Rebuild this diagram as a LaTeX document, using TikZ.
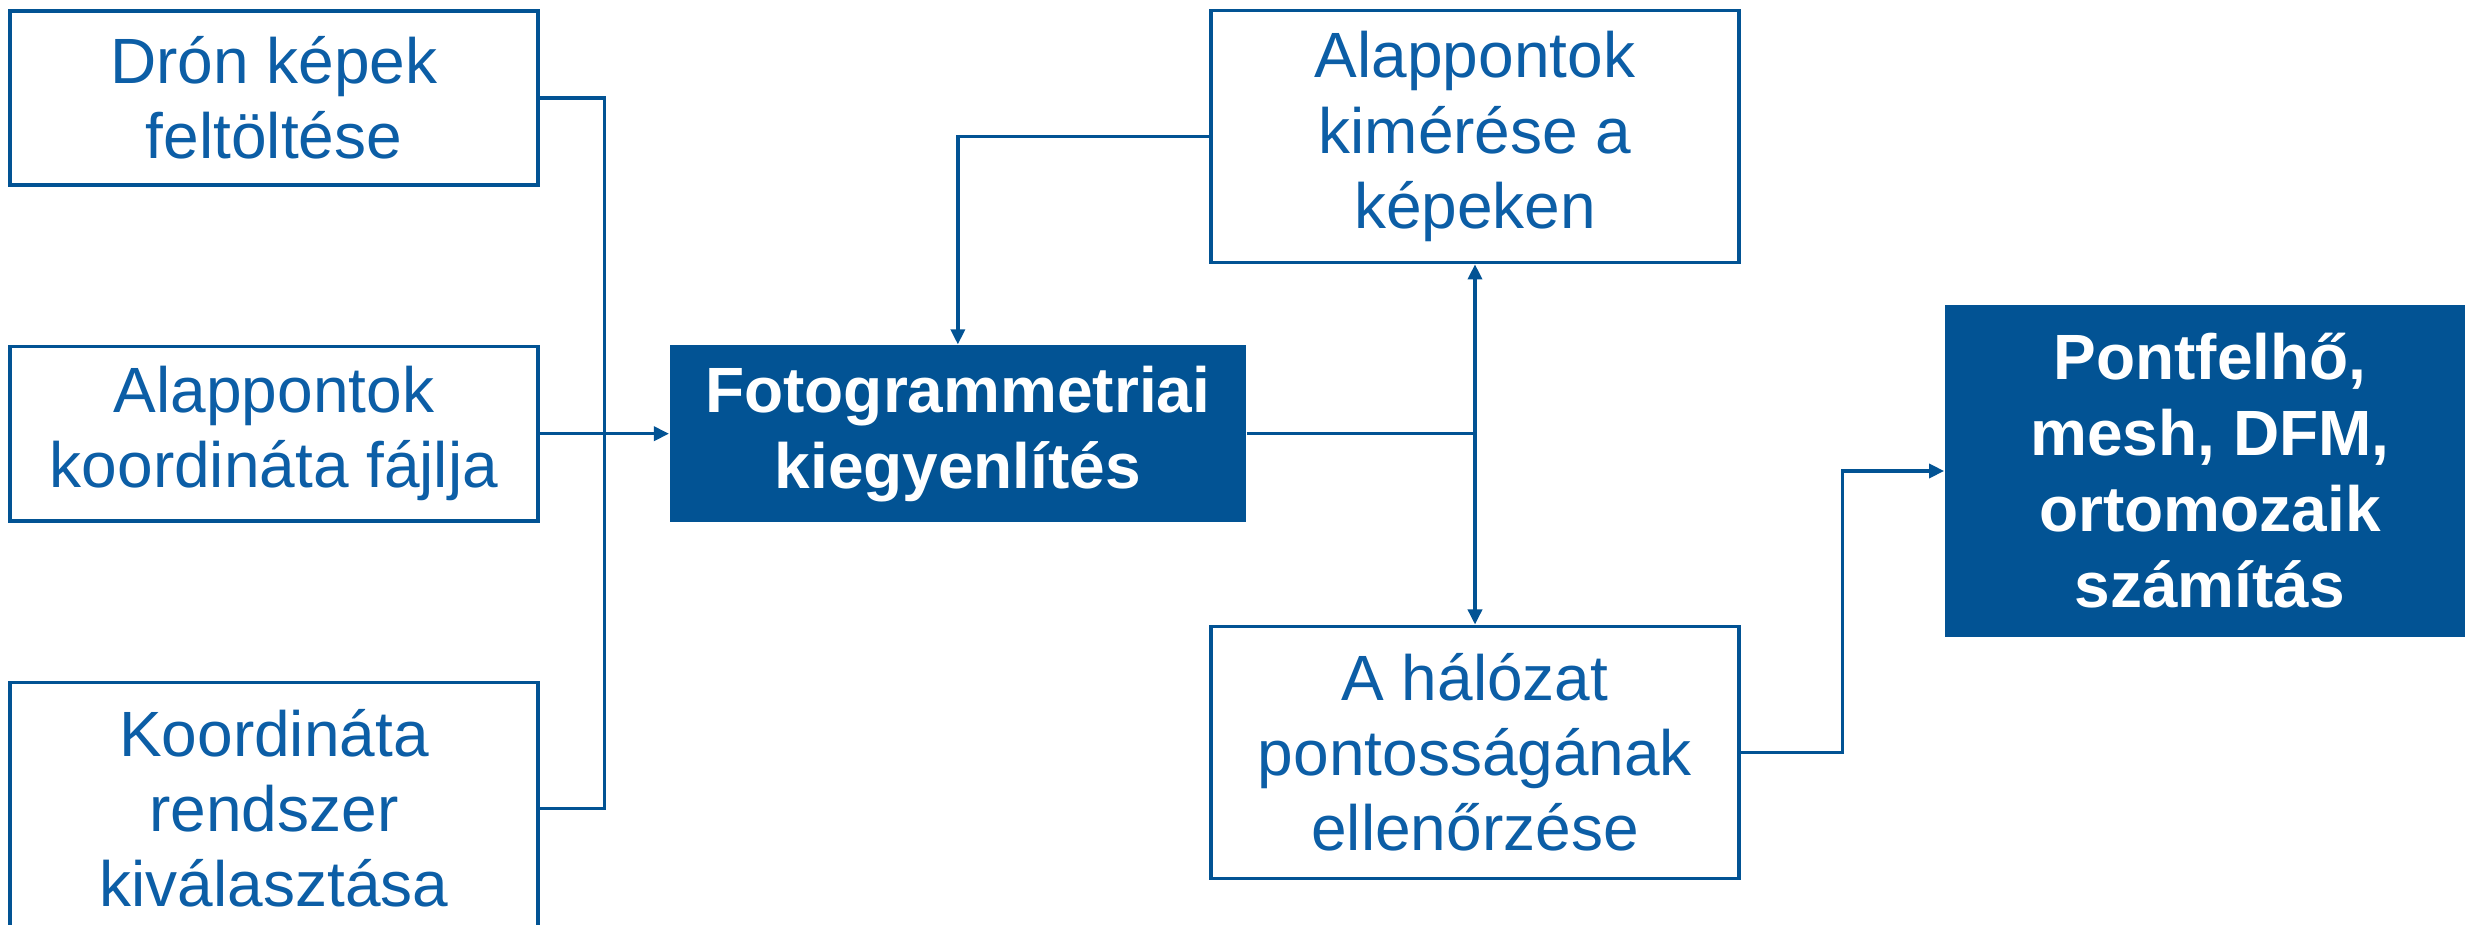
\documentclass[tikz,border=0pt]{standalone}
\usepackage{fontspec}
\setmainfont{Liberation Sans}
\usepackage{tikz}
\usetikzlibrary{arrows.meta, positioning, calc}
\definecolor{flowblue}{RGB}{2,83,148}
\definecolor{labelblue}{RGB}{12,94,166}

\begin{document}
\begin{tikzpicture}[
  x=0.01cm, y=-0.01cm,
  inbox/.style={
    rectangle, minimum width=5.28cm, minimum height=1.74cm, inner sep=0pt,
    align=center, draw=flowblue, fill=white, line width=1pt,
    text=labelblue, font=\fontsize{18.2}{21.4}\selectfont
  },
  tallbox/.style={inbox, minimum height=2.52cm},
  mainbox/.style={
    rectangle, inner sep=0pt, align=center, fill=flowblue,
    text=white, font=\fontsize{18.2}{21.6}\selectfont\bfseries
  },
  link/.style={draw=flowblue, line width=1pt},
  arr/.style={link, -{Triangle[length=4.3pt, width=4pt]}}
]
  \useasboundingbox (0,0) rectangle (2465,925);

  % input side
  \node[inbox] (drone) at (274,98) {Drón képek\\feltöltése};
  \node[inbox, below=1.58cm of drone] (gcpfile) {Alappontok\\koordináta fájlja};
  \node[tallbox, below=1.58cm of gcpfile] (crs) {Koordináta\\rendszer\\kiválasztása};

  \node[mainbox, minimum width=5.76cm, minimum height=1.77cm,
        right=1.29cm of gcpfile] (adjust) {Fotogrammetriai\\kiegyenlítés};

  % checks
  \node[tallbox] (gcpmeas) at (1475,136.5) {Alappontok\\kimérése a\\képeken};
  \node[tallbox, below=3.6cm of gcpmeas] (accuracy) {A hálózat\\pontosságának\\ellenőrzése};

  \node[mainbox, minimum width=5.3cm, minimum height=3.32cm] (products) at (2210,471)
    {Pontfelhő,\\mesh, DFM,\\ortomozaik\\számítás};

  \coordinate (bus) at ($(gcpfile.east)!.5!(adjust.west)$);
  \draw[link] (drone.east) -| (bus) |- (crs.east);
  \draw[arr] (gcpfile.east) -- (adjust.west);
  \draw[arr] (gcpmeas.west) -| (adjust.north);
  \draw[link] (adjust.east) -- (adjust.east -| gcpmeas.south);
  \draw[arr, {Triangle[length=4.3pt, width=4pt]}-{Triangle[length=4.3pt, width=4pt]}]
    (gcpmeas.south) -- (accuracy.north);
  \draw[arr] (accuracy.east) -| ($(accuracy.east)!.5!(products.west)$) |- (products.west);
\end{tikzpicture}
\end{document}
